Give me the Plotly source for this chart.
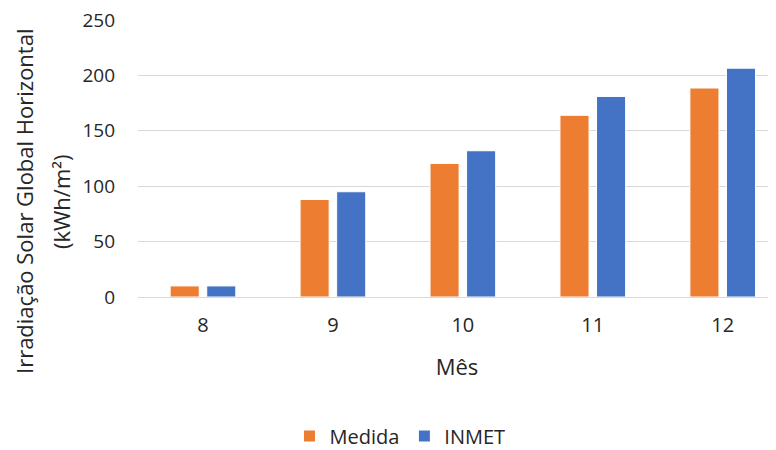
import plotly.graph_objects as go

meses = ["8", "9", "10", "11", "12"]
medida = [10, 88, 120.6, 164, 188.6]
inmet = [10, 95, 132, 181, 206.5]
y_ticks = [0, 50, 100, 150, 200, 250]

# page has an 8px body margin, so the figure is 768x442 inside a 776x450 window
W, H = 768, 442
ML, MR, MT, MB = 130, 0, 12, 153
FONT = "Open Sans"
TXT = "#262626"

fig = go.Figure()
fig.add_trace(go.Bar(name="Medida", x=meses, y=medida,
                     marker=dict(color="#ED7D31", line=dict(color="white", width=1))))
fig.add_trace(go.Bar(name="INMET", x=meses, y=inmet,
                     marker=dict(color="#4472C4", line=dict(color="white", width=1))))

pw = W - ML - MR
ph = H - MT - MB

def px_x(p):
    return (p - ML) / pw

def px_y(p):
    return (H - MB - p) / ph

fig.update_layout(
    width=W, height=H,
    margin=dict(l=ML, r=MR, t=MT, b=MB, autoexpand=False),
    paper_bgcolor="white", plot_bgcolor="white",
    font=dict(family=FONT, size=20, color=TXT),
    barmode="group", bargap=0.437, bargroupgap=0.205,
    showlegend=True,
    legend=dict(orientation="h", x=px_x(392), y=px_y(428), xanchor="center", yanchor="middle",
                font=dict(size=20, color=TXT), traceorder="normal"),
    xaxis=dict(type="category", range=[-0.5, 4.41], showgrid=False, showline=False,
               ticks="", ticklabelstandoff=14,
               title=dict(text="Mês", font=dict(size=22, color=TXT), standoff=22)),
    yaxis=dict(range=[0, 250], tickmode="array", tickvals=y_ticks,
               showgrid=True, gridcolor="#D9D9D9", gridwidth=1,
               zeroline=True, zerolinecolor="#D9D9D9", zerolinewidth=1,
               showline=False, ticks="", ticklabelstandoff=22,
               tickfont=dict(size=19, color=TXT),
               ticklabeloverflow="allow"),
    annotations=[
        dict(text="Irradiação Solar Global Horizontal", textangle=-90,
             xref="paper", yref="paper", x=px_x(16), y=px_y(194),
             xanchor="center", yanchor="middle", showarrow=False,
             font=dict(size=22, color=TXT)),
        dict(text="(kWh/m²)", textangle=-90,
             xref="paper", yref="paper", x=px_x(53), y=px_y(194),
             xanchor="center", yanchor="middle", showarrow=False,
             font=dict(size=22, color=TXT)),
    ],
)

fig.write_html("out.html")
